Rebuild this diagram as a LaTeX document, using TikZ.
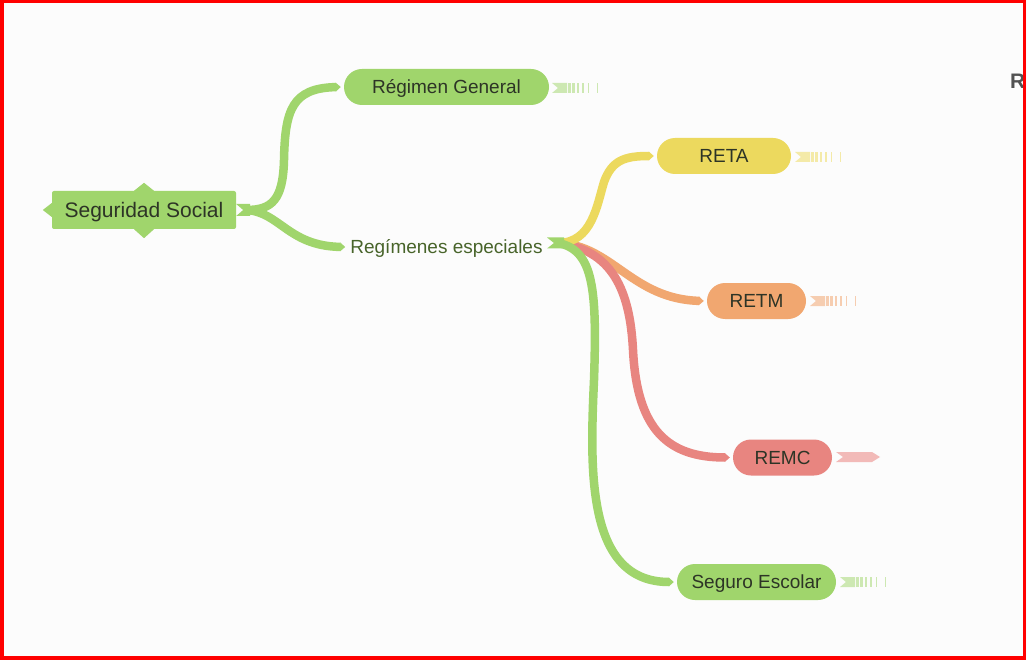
\documentclass[tikz,border=0pt]{standalone}
\usepackage{fontspec}
\setmainfont{Liberation Sans}
\usetikzlibrary{arrows.meta}
\definecolor{bg}{RGB}{252,252,252}
\definecolor{mgreen}{RGB}{160,213,108}
\definecolor{myellow}{RGB}{236,217,94}
\definecolor{morange}{RGB}{241,167,112}
\definecolor{mred}{RGB}{232,133,128}
\definecolor{lgreen}{RGB}{205,232,178}
\definecolor{lyellow}{RGB}{244,234,168}
\definecolor{lorange}{RGB}{246,205,176}
\definecolor{lred}{RGB}{242,186,184}
\definecolor{txt}{RGB}{45,52,38}
\definecolor{subtxt}{RGB}{72,100,42}
\newcommand{\stubmark}[3]{%
  \fill[#3] (#1,#2-5) -- (#1+15,#2-5) -- (#1+15,#2+5) -- (#1,#2+5) -- (#1+6,#2) -- cycle;
  \fill[#3] (#1+16,#2-5) rectangle (#1+19,#2+5);
  \fill[#3] (#1+20,#2-5) rectangle (#1+23,#2+5);
  \fill[#3] (#1+25,#2-5) rectangle (#1+27,#2+5);
  \fill[#3] (#1+30,#2-5) rectangle (#1+31.5,#2+5);
  \fill[#3] (#1+36,#2-5) rectangle (#1+37,#2+5);
  \fill[#3] (#1+45,#2-5) rectangle (#1+46,#2+5);
}
\tikzset{
  pill/.style={rounded corners=18pt, minimum height=36pt, inner sep=0pt,
    text=txt, font=\fontsize{19}{22}\selectfont, text height=13.6pt, text depth=0pt},
  branch/.style={line width=8.5pt, -{Triangle[width=8.5pt,length=5pt]}},
}
\begin{document}
\begin{tikzpicture}[x=1pt,y=-1pt]
\useasboundingbox (0,0) rectangle (1027,660);
\fill[bg] (0,0) rectangle (1027,660);

% root
\node[fill=mgreen, rounded corners=2pt, minimum width=184pt, minimum height=38pt, inner sep=0pt,
  text=txt, font=\fontsize{21}{24}\selectfont, text height=15pt, text depth=0pt] (root) at (144,210) {Seguridad Social};
\fill[mgreen] ([xshift=-10pt]root.north) -- ([yshift=8pt]root.north) -- ([xshift=10pt]root.north) -- cycle;
\fill[mgreen] ([xshift=-10pt]root.south) -- ([yshift=-9pt]root.south) -- ([xshift=10pt]root.south) -- cycle;
\fill[mgreen] ([yshift=7pt]root.west) -- ([xshift=-9pt]root.west) -- ([yshift=-7pt]root.west) -- cycle;

% level 1
\node[pill, fill=mgreen, minimum width=205pt] (rg) at (446.5,87) {Régimen General};
\node[text=subtxt, font=\fontsize{19}{22}\selectfont, inner sep=0pt, text height=13.6pt, text depth=0pt] (re) at (446.5,247) {Regímenes especiales};

% root connectors
\fill[mgreen] (root.east) ++(0,-6) -- ++(14,0) -- ++(0,12) -- ++(-14,0) -- ++(7,-6) -- cycle;
\draw[branch, mgreen] ([xshift=10pt]root.east) .. controls (272,210) and (283,200) .. (284,160)
  .. controls (285,110) and (292,88) .. ([xshift=-3pt]rg.west);
\draw[branch, mgreen] ([xshift=10pt]root.east) .. controls (280,212) and (288,246) .. ([xshift=-5pt]re.west |- 0,247);

% level 2
\node[pill, fill=myellow, minimum width=134pt] (reta) at (724,156) {RETA};
\node[pill, fill=morange, minimum width=99pt] (retm) at (756.5,301) {RETM};
\node[pill, fill=mred, minimum width=99pt] (remc) at (782.5,457.5) {REMC};
\node[pill, fill=mgreen, minimum width=159pt] (se) at (756.5,582) {Seguro Escolar};

\coordinate (hub) at (558,243);
\draw[branch, morange] (hub) .. controls (612,245) and (632,299) .. ([xshift=-3pt]retm.west);
\draw[branch, mred] (hub) .. controls (612,250) and (630,290) .. (633,350)
  .. controls (637,430) and (668,457.5) .. ([xshift=-3pt]remc.west);
\draw[branch, myellow] (hub) .. controls (592,243) and (597,205) .. (604,182)
  .. controls (612,160) and (625,156) .. ([xshift=-3pt]reta.west);
\draw[branch, mgreen] (hub) .. controls (594,250) and (597,290) .. (594,380)
  .. controls (590,470) and (586,582) .. ([xshift=-3pt]se.west);
\fill[mgreen] (547,237.5) -- (564,237.5) -- (564,248.5) -- (547,248.5) -- (554,243) -- cycle;

% collapsed indicators
\stubmark{552}{88}{lgreen}
\stubmark{795}{157}{lyellow}
\stubmark{810}{301}{lorange}
\stubmark{840}{582}{lgreen}
\fill[lred] (836,452) -- (872,452) -- (880,457) -- (872,462) -- (836,462) -- (843,457) -- cycle;

% cut-off label at right edge
\node[anchor=base west, inner sep=0pt, text=black!68, font=\bfseries\fontsize{21}{24}\selectfont] (rr) at (1010,89) {R};

% border
\draw[red, line width=3.5pt] (1.75,1.75) rectangle (1024.25,657.75);
\end{tikzpicture}
\end{document}
